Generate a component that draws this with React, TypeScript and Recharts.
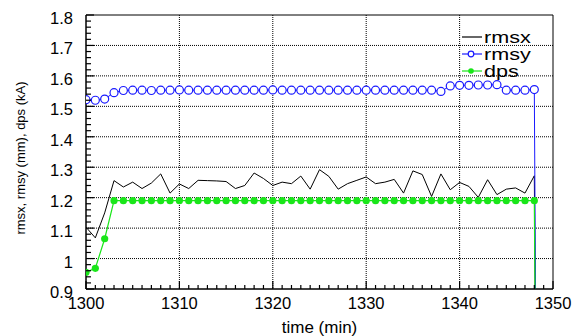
import React from 'react';
import { LineChart, Line, XAxis, YAxis, CartesianGrid, Legend, ReferenceArea } from 'recharts';

const times = [
  1300, 1301, 1302, 1303, 1304, 1305, 1306, 1307, 1308, 1309,
  1310, 1311, 1312, 1313, 1314, 1315, 1316, 1317, 1318, 1319,
  1320, 1321, 1322, 1323, 1324, 1325, 1326, 1327, 1328, 1329,
  1330, 1331, 1332, 1333, 1334, 1335, 1336, 1337, 1338, 1339,
  1340, 1341, 1342, 1343, 1344, 1345, 1346, 1347, 1348, 1348.3,
];

const rmsx = [
  1.103, 1.068, 1.15, 1.256, 1.235, 1.251, 1.23, 1.248, 1.278, 1.215,
  1.245, 1.23, 1.257, 1.256, 1.255, 1.253, 1.23, 1.24, 1.281, 1.263,
  1.24, 1.251, 1.246, 1.271, 1.228, 1.292, 1.27, 1.228, 1.246, 1.257,
  1.268, 1.246, 1.251, 1.26, 1.215, 1.288, 1.276, 1.204, 1.278, 1.226,
  1.25, 1.237, 1.201, 1.259, 1.21, 1.228, 1.232, 1.215, 1.272, 0,
];

const rmsy = [
  1.522, 1.52, 1.524, 1.545, 1.552, 1.553, 1.553, 1.552, 1.553, 1.553,
  1.554, 1.553, 1.553, 1.553, 1.553, 1.553, 1.553, 1.553, 1.553, 1.553,
  1.554, 1.553, 1.553, 1.553, 1.553, 1.553, 1.553, 1.553, 1.553, 1.553,
  1.553, 1.553, 1.553, 1.553, 1.553, 1.553, 1.553, 1.553, 1.549, 1.567,
  1.569, 1.569, 1.57, 1.57, 1.571, 1.553, 1.553, 1.553, 1.555, 0,
];

const dps = [
  0.955, 0.968, 1.065, 1.19, 1.19, 1.19, 1.19, 1.19, 1.19, 1.19,
  1.19, 1.19, 1.19, 1.19, 1.19, 1.19, 1.19, 1.19, 1.19, 1.19,
  1.19, 1.19, 1.19, 1.19, 1.19, 1.19, 1.19, 1.19, 1.19, 1.19,
  1.19, 1.19, 1.19, 1.19, 1.19, 1.19, 1.19, 1.19, 1.19, 1.19,
  1.19, 1.19, 1.19, 1.19, 1.19, 1.19, 1.19, 1.19, 1.19, 0,
];

const xTicks = [1300, 1310, 1320, 1330, 1340, 1350];
const yTicks = [0.9, 1.0, 1.1, 1.2, 1.3, 1.4, 1.5, 1.6, 1.7, 1.8];
const yTickLabels = ['0.9', '1', '1.1', '1.2', '1.3', '1.4', '1.5', '1.6', '1.7', '1.8'];

const xMinorTicks = [
  1300, 1301, 1302, 1303, 1304, 1305, 1306, 1307, 1308, 1309,
  1310, 1311, 1312, 1313, 1314, 1315, 1316, 1317, 1318, 1319,
  1320, 1321, 1322, 1323, 1324, 1325, 1326, 1327, 1328, 1329,
  1330, 1331, 1332, 1333, 1334, 1335, 1336, 1337, 1338, 1339,
  1340, 1341, 1342, 1343, 1344, 1345, 1346, 1347, 1348, 1349, 1350,
];
const yMinorTicks = [
  0.9, 0.92, 0.94, 0.96, 0.98, 1.0, 1.02, 1.04, 1.06, 1.08,
  1.1, 1.12, 1.14, 1.16, 1.18, 1.2, 1.22, 1.24, 1.26, 1.28,
  1.3, 1.32, 1.34, 1.36, 1.38, 1.4, 1.42, 1.44, 1.46, 1.48,
  1.5, 1.52, 1.54, 1.56, 1.58, 1.6, 1.62, 1.64, 1.66, 1.68,
  1.7, 1.72, 1.74, 1.76, 1.78, 1.8,
];

const seriesNames = ['rmsx', 'rmsy', 'dps'];
const seriesColors = ['#000000', '#1a1aff', '#19e619'];

const data = times.map((t, i) => ({ time: t, rmsx: rmsx[i], rmsy: rmsy[i], dps: dps[i] }));

const FONT = '"Liberation Sans", Arial, Helvetica, sans-serif';
const X_DOMAIN: [number, number] = [1300, 1350];
const Y_DOMAIN: [number, number] = [0.9, 1.8];
const X_TICK_MARGIN = 14;
const Y_TICK_MARGIN = 13;

const inRange = (v: number) => v >= Y_DOMAIN[0] && v <= Y_DOMAIN[1];
const near = (a: number, b: number) => Math.abs(a - b) < 1e-6;

const CircleDot = (props: any) => {
  const { cx, cy, value, index } = props;
  if (!inRange(value)) return <g key={`c${index}`} />;
  return <circle key={`c${index}`} cx={cx} cy={cy} r={4} fill="#fff" stroke={seriesColors[1]} strokeWidth={1.2} />;
};
const FilledDot = (props: any) => {
  const { cx, cy, value, index } = props;
  if (!inRange(value)) return <g key={`f${index}`} />;
  return <circle key={`f${index}`} cx={cx} cy={cy} r={3.6} fill={seriesColors[2]} stroke="none" />;
};

const YTick = (props: any) => {
  const { x, y, payload } = props;
  const v = payload.value as number;
  const idx = yTicks.findIndex((t) => near(t, v));
  const major = idx >= 0;
  const ax = x + Y_TICK_MARGIN;
  return (
    <g>
      <line x1={ax} x2={ax + (major ? 8 : 5)} y1={y} y2={y} stroke="#000" strokeWidth={1.2} />
      {major && (
        <text x={x} y={y + 3} textAnchor="end" dominantBaseline="central" fontSize={16.5} fontFamily={FONT} fill="#000">
          {yTickLabels[idx]}
        </text>
      )}
    </g>
  );
};

const XTick = (props: any) => {
  const { x, y, payload } = props;
  const v = payload.value as number;
  const major = xTicks.some((t) => near(t, v));
  const ay = y - X_TICK_MARGIN;
  return (
    <g>
      <line x1={x} x2={x} y1={ay} y2={ay - (major ? 8 : 4)} stroke="#000" strokeWidth={1.2} />
      {major && (
        <text x={x} y={y} textAnchor="middle" dominantBaseline="central" fontSize={16.5} fontFamily={FONT} fill="#000">
          {String(v)}
        </text>
      )}
    </g>
  );
};

const markerOf: Record<string, string> = { rmsx: 'none', rmsy: 'circle', dps: 'dot' };

const LegendContent = (props: any) => {
  const payload = ([...(props.payload || [])] as any[]).sort(
    (a, b) => seriesNames.indexOf(a.value) - seriesNames.indexOf(b.value)
  );
  return (
    <svg width={90} height={56} style={{ display: 'block' }}>
      {payload.map((p, i) => {
        const cy = 9 + i * 17;
        const m = markerOf[p.value];
        return (
          <g key={p.value}>
            <line x1={7} x2={27} y1={cy} y2={cy} stroke={p.color} strokeWidth={1.2} />
            {m === 'circle' && <circle cx={16} cy={cy} r={2.8} fill="#fff" stroke={p.color} strokeWidth={1.2} />}
            {m === 'dot' && <circle cx={16} cy={cy} r={2.8} fill={p.color} />}
            <text
              transform={`translate(29, ${cy + 5.5}) scale(1.35, 1)`}
              fontSize={16}
              fontFamily={FONT}
              fill="#000"
            >
              {p.value}
            </text>
          </g>
        );
      })}
    </svg>
  );
};

const YLabel = (props: any) => {
  const vb = props.viewBox || { x: 0, y: 0, width: 0, height: 0 };
  const cx = vb.x + 20;
  const cy = vb.y + vb.height / 2 + 6;
  return (
    <text
      x={cx}
      y={cy}
      transform={`rotate(-90 ${cx} ${cy})`}
      textAnchor="middle"
      dominantBaseline="central"
      fontSize={13}
      fontFamily={FONT}
      fill="#000"
    >
      rmsx, rmsy (mm), dps (kA)
    </text>
  );
};

export default function App() {
  return (
    <div style={{ position: 'absolute', left: 0, top: 0, width: 574, height: 336, background: '#fff' }}>
      <LineChart width={574} height={336} data={data} margin={{ top: 15, right: 21, bottom: 0, left: 0 }}>
        <CartesianGrid
          xAxisId="x"
          yAxisId="y"
          stroke="#000"
          strokeDasharray="1 1"
          horizontalValues={yTicks.slice(1, -1)}
          verticalValues={xTicks.slice(1, -1)}
        />
        <ReferenceArea
          xAxisId="x"
          yAxisId="y"
          x1={1300}
          x2={1350}
          y1={0.9}
          y2={1.8}
          fill="none"
          stroke="#000"
          strokeWidth={1}
          ifOverflow="visible"
        />
        <XAxis
          xAxisId="x"
          dataKey="time"
          type="number"
          domain={X_DOMAIN}
          ticks={xMinorTicks}
          interval={0}
          allowDataOverflow
          height={47}
          axisLine={{ stroke: '#000' }}
          tickLine={false}
          tickSize={0}
          tickMargin={X_TICK_MARGIN}
          tick={<XTick />}
          label={{ value: 'time (min)', position: 'insideBottom', offset: 3, fill: '#000', fontSize: 17, fontFamily: FONT }}
        />
        <YAxis
          yAxisId="y"
          type="number"
          domain={Y_DOMAIN}
          ticks={yMinorTicks}
          interval={0}
          allowDataOverflow
          width={86}
          axisLine={{ stroke: '#000' }}
          tickLine={false}
          tickSize={0}
          tickMargin={Y_TICK_MARGIN}
          tick={<YTick />}
          label={<YLabel />}
        />
        <Line
          xAxisId="x"
          yAxisId="y"
          type="linear"
          dataKey="rmsx"
          name={seriesNames[0]}
          stroke={seriesColors[0]}
          strokeWidth={1}
          dot={false}
          isAnimationActive={false}
        />
        <Line
          xAxisId="x"
          yAxisId="y"
          type="linear"
          dataKey="rmsy"
          name={seriesNames[1]}
          stroke={seriesColors[1]}
          strokeWidth={1}
          dot={<CircleDot />}
          isAnimationActive={false}
        />
        <Line
          xAxisId="x"
          yAxisId="y"
          type="linear"
          dataKey="dps"
          name={seriesNames[2]}
          stroke={seriesColors[2]}
          strokeWidth={1.2}
          dot={<FilledDot />}
          isAnimationActive={false}
        />
        <Legend
          layout="horizontal"
          verticalAlign="middle"
          align="center"
          content={<LegendContent />}
          wrapperStyle={{ position: 'absolute', left: 455, top: 28, width: 90, height: 56 }}
        />
      </LineChart>
    </div>
  );
}
